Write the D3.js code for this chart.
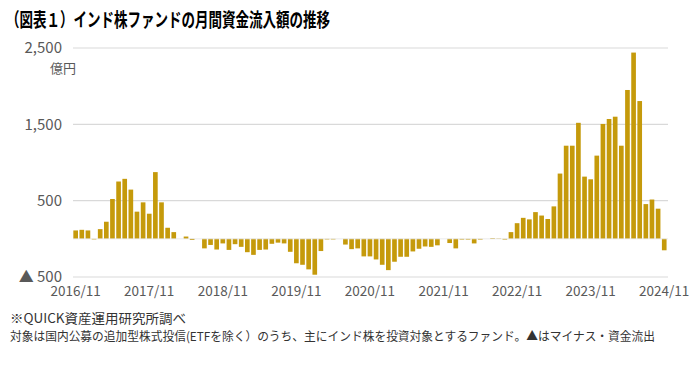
<!DOCTYPE html>
<html><head><meta charset="utf-8">
<script src="https://cdn.jsdelivr.net/npm/d3@7"></script>
<style>
html,body{margin:0;padding:0;background:#fff;}
svg{display:block;font-family:"Noto Sans CJK JP","Noto Sans",sans-serif;}
</style></head>
<body>
<script>
// ---- data ----
const startMonth = "2016/11";
const flows = [
  110, 118, 110, -8, 127, 224, 522, 751, 786, 645, 356, 478,
  329, 874, 478, 145, 88, 0, 30, -15, 0, -125, -80, -140,
  -60, -145, -70, -105, -175, -210, -145, -140, -65, -50, -60, -170,
  -320, -340, -400, -470, -160, -8, -8, 0, -75, -135, -125, -230,
  -230, -270, -340, -410, -300, -235, -235, -165, -130, -100, -105, -85,
  0, -55, -125, -10, -10, -60, -10, 0, 10, 5, -10, 88,
  205, 275, 255, 350, 305, 260, 425, 855, 1220, 1220, 1520, 815,
  780, 1090, 1505, 1570, 1600, 1220, 1950, 2440, 1805, 455, 515, 395,
  -150
];
const xTickLabels = ["2016/11","2017/11","2018/11","2019/11","2020/11","2021/11","2022/11","2023/11","2024/11"];
const yTickValues = [2500, 1500, 500, -500];
const yTickLabels = ["2,500", "1,500", "500", "▲ 500"];
const titleText = "（図表１）インド株ファンドの月間資金流入額の推移";
const unitText = "億円";
const note1 = "※QUICK資産運用研究所調べ";
const note2 = "対象は国内公募の追加型株式投信(ETFを除く）のうち、主にインド株を投資対象とするファンド。▲はマイナス・資金流出";

// month categories
const fmt = d3.timeFormat("%Y/%m");
const parse = d3.timeParse("%Y/%m");
const t0 = parse(startMonth);
const months = flows.map((_, i) => fmt(d3.timeMonth.offset(t0, i)));
const data = months.map((m, i) => ({month: m, value: flows[i]}));

// ---- layout ----
const W = 694, H = 387;
const svg = d3.select("body").append("svg").attr("width", W).attr("height", H);

const x = d3.scaleBand().domain(months).range([72.6, 667.3]).paddingInner(0.24).paddingOuter(0.12);
const y = d3.scaleLinear().domain([-500, 2500]).range([277, 48]);

// gridlines
svg.append("g").selectAll("line").data(yTickValues).join("line")
  .attr("x1", 73).attr("x2", 668)
  .attr("y1", d => y(d)).attr("y2", d => y(d))
  .attr("stroke", "#d9d9d9").attr("stroke-width", 1.2);

// bars
svg.append("g").selectAll("rect").data(data).join("rect")
  .attr("x", d => x(d.month))
  .attr("width", x.bandwidth())
  .attr("y", d => y(Math.max(0, d.value)))
  .attr("height", d => Math.abs(y(d.value) - y(0)))
  .attr("fill", "#C59A0B");

// zero line (faint)
svg.append("line").attr("x1", 73).attr("x2", 668)
  .attr("y1", y(0)).attr("y2", y(0))
  .attr("stroke", "#e6e6e6").attr("stroke-width", 0.8);

// y axis labels
const yAxis = d3.axisLeft(y).tickValues(yTickValues)
  .tickFormat((d, i) => yTickLabels[i]).tickSize(0).tickPadding(0);
const gy = svg.append("g").attr("transform", "translate(62,0)").call(yAxis);
gy.select(".domain").remove();
gy.selectAll("text").attr("fill", "#595959").attr("font-size", 15)
  .attr("font-family", "'Noto Sans CJK JP', sans-serif");

svg.append("text").attr("x", 76).attr("y", 73).attr("text-anchor", "end")
  .attr("fill", "#595959").attr("font-size", 13).text(unitText);

// x axis labels
const xAxis = d3.axisBottom(x).tickValues(xTickLabels).tickSize(0).tickPadding(0);
const gx = svg.append("g").attr("transform", "translate(0,286)").call(xAxis);
gx.select(".domain").remove();
gx.selectAll("text").attr("fill", "#595959").attr("font-size", 13.5)
  .attr("font-family", "'Noto Sans CJK JP', sans-serif");

// title
svg.append("text").attr("x", 6).attr("y", 27)
  .attr("font-size", 19).attr("font-weight", "bold").attr("fill", "#000")
  .attr("textLength", 324).attr("lengthAdjust", "spacingAndGlyphs")
  .text(titleText);

// notes
svg.append("text").attr("x", 10).attr("y", 323)
  .attr("font-size", 13).attr("fill", "#333")
  .attr("textLength", 176).attr("lengthAdjust", "spacingAndGlyphs")
  .text(note1);
svg.append("text").attr("x", 10).attr("y", 341)
  .attr("font-size", 12.2).attr("fill", "#333")
  .attr("textLength", 645).attr("lengthAdjust", "spacingAndGlyphs")
  .text(note2);
</script>
</body></html>
